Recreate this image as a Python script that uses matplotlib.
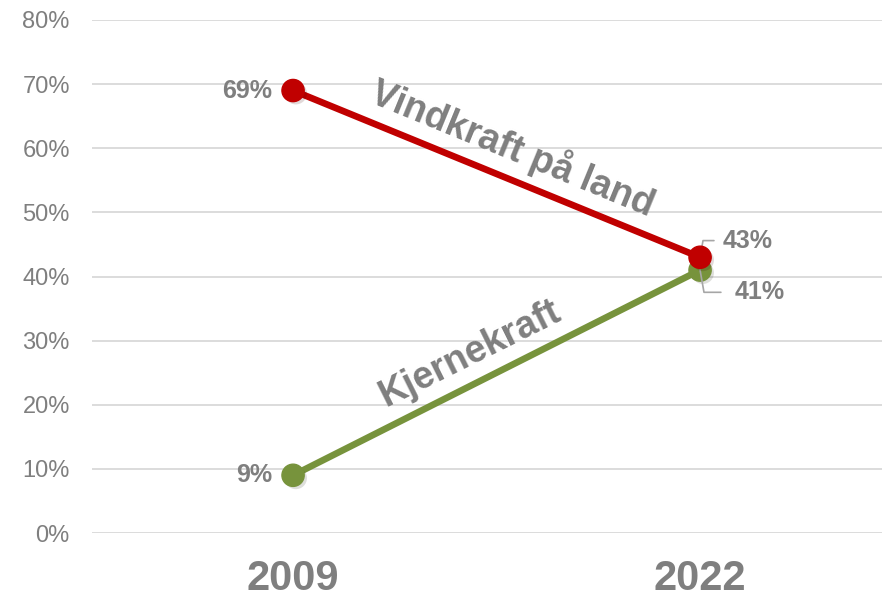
import matplotlib.pyplot as plt
import matplotlib.patheffects as pe
from matplotlib.ticker import PercentFormatter

plt.rcParams['font.family'] = ['Liberation Sans', 'DejaVu Sans']

aar = ['2009', '2022']
vind = [0.69, 0.43]
kjerne = [0.09, 0.41]
navn_vind = 'Vindkraft på land'
navn_kjerne = 'Kjernekraft'

GRA = '#7f7f7f'
ROD = '#c00000'
GRONN = '#77933c'

fig = plt.figure(figsize=(8.82, 6.0), dpi=100)
ax = fig.add_axes([92/882, 67/600, 790/882, 513/600])

x = [0, 1]
skygge = [pe.SimplePatchShadow(offset=(2, -2), alpha=0.15), pe.Normal()]
ax.plot(x, kjerne, color=GRONN, lw=4.8, marker='o', ms=16, zorder=3,
        path_effects=skygge)
ax.plot(x, vind, color=ROD, lw=4.8, marker='o', ms=16, zorder=4,
        path_effects=skygge)

ax.set_ylim(0, 0.8)
ax.set_xlim(-0.494, 1.447)
ax.set_yticks([i / 10 for i in range(9)])
ax.yaxis.set_major_formatter(PercentFormatter(1.0, decimals=0))
ax.set_xticks(x)
ax.set_xticklabels(aar, fontsize=30, fontweight='bold', color=GRA)
ax.tick_params(axis='y', labelsize=17, labelcolor=GRA, length=0, pad=16)
ax.tick_params(axis='x', length=0, pad=19)
ax.grid(axis='y', color='#d9d9d9', lw=1.3)
ax.set_axisbelow(True)
for s in ax.spines.values():
    s.set_visible(False)

# datalabels
ax.annotate(f'{vind[0]:.0%}', (0, vind[0]), xytext=(-15, 0), textcoords='offset points',
            ha='right', va='center', fontsize=18, fontweight='bold', color=GRA)
ax.annotate(f'{kjerne[0]:.0%}', (0, kjerne[0]), xytext=(-15, 0), textcoords='offset points',
            ha='right', va='center', fontsize=18, fontweight='bold', color=GRA)
ax.annotate(f'{vind[1]:.0%}', (1, vind[1]), xytext=(16, 12), textcoords='offset points',
            ha='left', va='center', fontsize=18, fontweight='bold', color=GRA,
            arrowprops=dict(arrowstyle='-', color='#a6a6a6', lw=1.2,
                            connectionstyle='angle,angleA=0,angleB=80,rad=0',
                            shrinkA=4, shrinkB=0))
ax.annotate(f'{kjerne[1]:.0%}', (1, kjerne[1]), xytext=(25, -16), textcoords='offset points',
            ha='left', va='center', fontsize=18, fontweight='bold', color=GRA,
            arrowprops=dict(arrowstyle='-', color='#a6a6a6', lw=1.2,
                            connectionstyle='angle,angleA=0,angleB=-80,rad=0',
                            shrinkA=8, shrinkB=0))

# serienavn langs linjene
ax.text(0.54, 0.60, navn_vind, rotation=-22.3, rotation_mode='anchor',
        ha='center', va='center', fontsize=27, fontweight='bold', color=GRA)
ax.text(0.435, 0.28, navn_kjerne, rotation=26.5, rotation_mode='anchor',
        ha='center', va='center', fontsize=27, fontweight='bold', color=GRA)

fig.savefig('out.png', dpi=100)
